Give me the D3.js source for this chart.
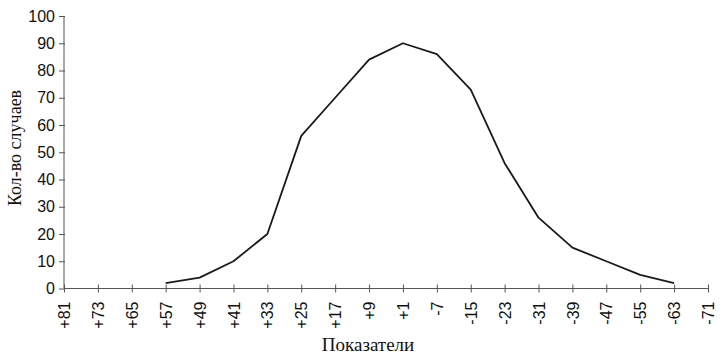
<!DOCTYPE html>
<html><head><meta charset="utf-8">
<script src="https://cdn.jsdelivr.net/npm/d3@7"></script>
<style>body{margin:0;background:#fff}svg{display:block}</style>
</head><body>
<svg id="c" width="728" height="357"></svg>
<script>
const categories = ["+81","+73","+65","+57","+49","+41","+33","+25","+17","+9","+1","-7","-15","-23","-31","-39","-47","-55","-63","-71"];
const values = [null,null,null,2,4,10,20,56,70,84,90,86,73,46,26,15,10,5,2,null];
const yTicks = [0,10,20,30,40,50,60,70,80,90,100];
const yTitle = "Кол-во случаев";
const xTitle = "Показатели";

const svg = d3.select("#c");
const x = d3.scalePoint().domain(categories).range([64, 708]);
const y = d3.scaleLinear().domain([0, 100]).range([288.5, 16]);
const axisColor = "#555";

// y axis
const ya = svg.append("g").attr("transform", "translate(64,0)")
  .call(d3.axisLeft(y).tickValues(yTicks).tickSize(5).tickPadding(4));
ya.select(".domain").attr("stroke", axisColor).attr("d", `M0,${y(100)}V${y(0)}`);
ya.selectAll(".tick line").attr("stroke", axisColor).attr("x2", -5).attr("x1", 1);
ya.selectAll(".tick text").attr("font-family", "Liberation Sans, Arial, sans-serif")
  .attr("font-size", 16).attr("fill", "#111");

// x axis
const xa = svg.append("g").attr("transform", `translate(0,${y(0)})`)
  .call(d3.axisBottom(x).tickSize(4).tickPadding(0));
xa.select(".domain").attr("stroke", axisColor).attr("d", `M64,0H708`);
xa.selectAll(".tick line").attr("stroke", axisColor).attr("y1", -4).attr("y2", 4);
xa.selectAll(".tick text")
  .attr("font-family", "Liberation Sans, Arial, sans-serif").attr("font-size", 16).attr("fill", "#111")
  .attr("transform", "rotate(-90)").attr("text-anchor", "end")
  .attr("x", -13).attr("y", 0).attr("dy", "0.35em");

// line
const line = d3.line().defined(d => d.v != null).x(d => x(d.c)).y(d => y(d.v));
svg.append("path")
  .datum(categories.map((c, i) => ({c, v: values[i]})))
  .attr("fill", "none").attr("stroke", "#1a1a1a").attr("stroke-width", 1.8)
  .attr("stroke-linejoin", "round").attr("d", line);

// titles
svg.append("text").attr("transform", "translate(21,148) rotate(-90)")
  .attr("text-anchor", "middle").attr("font-family", "Liberation Serif, Times New Roman, serif")
  .attr("font-size", 18).attr("fill", "#111").text(yTitle);
svg.append("text").attr("x", 368).attr("y", 351)
  .attr("text-anchor", "middle").attr("font-family", "Liberation Serif, Times New Roman, serif")
  .attr("font-size", 19).attr("fill", "#111").text(xTitle);
</script>
</body></html>
